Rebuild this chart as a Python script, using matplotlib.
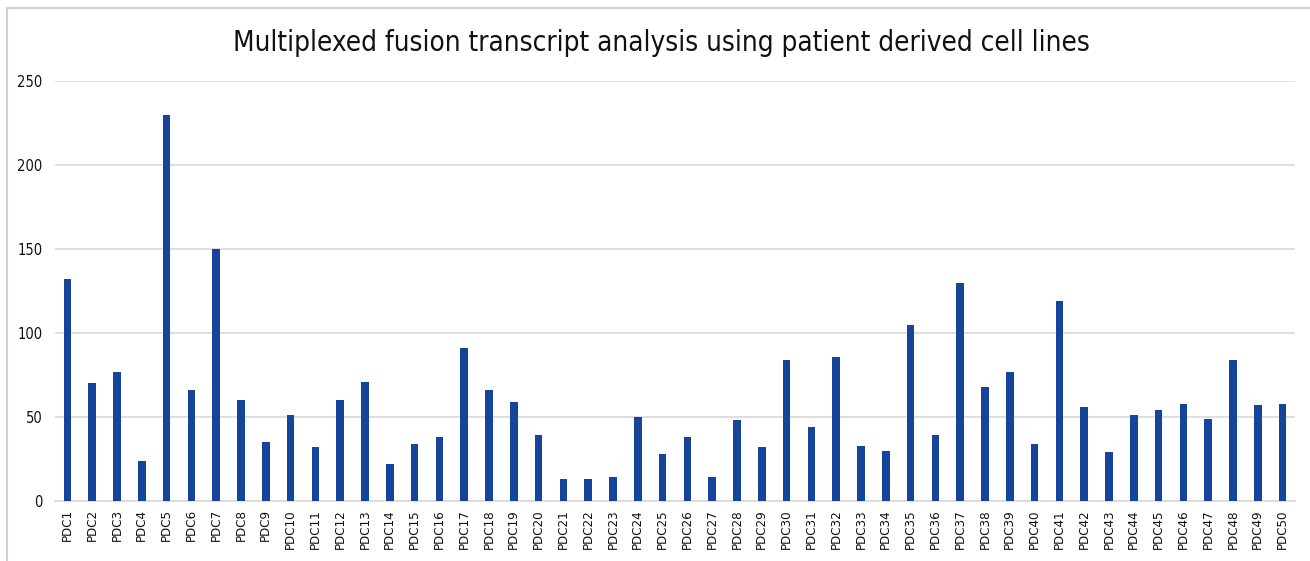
import matplotlib
matplotlib.use('Agg')
from matplotlib import pyplot as plt
from matplotlib.patches import Rectangle
import numpy as np

labels = ['PDC%d' % i for i in range(1, 51)]
counts = [132, 70, 77, 24, 230, 66, 150, 60, 35, 51,
          32, 60, 71, 22, 34, 38, 91, 66, 59, 39,
          13, 13, 14, 50, 28, 38, 14.5, 48, 32, 84,
          44, 86, 33, 30, 105, 39, 130, 68, 76.5, 34,
          119, 56, 29, 51, 54, 58, 49, 84, 57, 58]
yticks = [0, 50, 100, 150, 200, 250]

title = 'Multiplexed fusion transcript analysis using patient derived cell lines'
barColor = '#17449b'
gridColor = '#d9d9d9'

fig = plt.figure(figsize=(13.10, 5.61), dpi=100)
ax = fig.add_axes([55 / 1310, 1 - 501 / 561, 1240 / 1310, 420 / 561])

x = np.arange(len(labels))
ax.bar(x, counts, width=0.3, color=barColor, zorder=3)
ax.set_xlim(-0.5, len(labels) - 0.5)
ax.set_ylim(0, 250)
ax.set_yticks(yticks)
ax.set_xticks(x)
ax.set_xticklabels(labels, rotation=90, fontsize=9.5, color='#111111',
                   family='DejaVu Sans', stretch='condensed')
for t in ax.get_yticklabels():
	t.set_fontsize(10.5)
	t.set_color('#111111')
	t.set_stretch('condensed')
ax.tick_params(axis='x', length=0, pad=6)
ax.tick_params(axis='y', length=0, pad=9)
ax.grid(axis='y', color=gridColor, linewidth=1.2, zorder=0)
for side in ['top', 'right', 'left']:
	ax.spines[side].set_visible(False)
ax.spines['bottom'].set_color(gridColor)
ax.spines['bottom'].set_linewidth(1.2)

fig.text(0.505, 1 - 43 / 561, title, ha='center', va='center', fontsize=20,
         family='DejaVu Sans', stretch='condensed', color='#111111')

fig.patches.append(Rectangle((7 / 1310, -0.1), 1.2, 1 - 8 / 561 + 0.1,
                             transform=fig.transFigure, fill=False,
                             edgecolor='#d0d0d0', linewidth=1.5))

fig.savefig('out.png', dpi=100)
